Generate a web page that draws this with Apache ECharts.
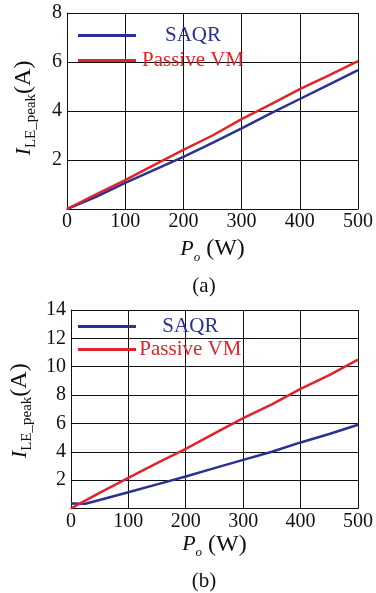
<!DOCTYPE html>
<html>
<head>
<meta charset="utf-8">
<script src="https://cdn.jsdelivr.net/npm/echarts@6/dist/echarts.min.js"></script>
<style>
  html, body { margin: 0; padding: 0; background: #fff; }
  #chart { width: 376px; height: 593px; }
</style>
</head>
<body>
<div id="chart"></div>
<script>
// output power Po (W)
const powerA = [0, 50, 100, 150, 200, 250, 300, 350, 400, 450, 500];
const saqrA = [0, 0.5, 1.07, 1.6, 2.13, 2.7, 3.29, 3.9, 4.49, 5.08, 5.67];
const passiveA = [0, 0.6, 1.18, 1.8, 2.41, 3.0, 3.67, 4.27, 4.89, 5.45, 6.04];

const powerB = [0, 25, 50, 100, 150, 200, 250, 300, 350, 400, 450, 500];
const saqrB = [0.35, 0.33, 0.6, 1.15, 1.7, 2.26, 2.85, 3.43, 4.0, 4.66, 5.25, 5.91];
const passiveB = [0, 0.55, 1.1, 2.16, 3.2, 4.21, 5.3, 6.38, 7.35, 8.43, 9.4, 10.5];

const BLUE = "#2a3190";
const RED = "#e0242a";
const FONT = "Liberation Serif";

const chart = echarts.init(document.getElementById("chart"));

const pair = (xs, ys) => xs.map((x, i) => [x, ys[i]]);

const xName = "{i|P}{o|o}{n| (W)}";
const yName = "{i|I}{s|LE_peak}{n|(A)}";
const nameRich = {
  i: { fontFamily: FONT, fontStyle: "italic", fontSize: 22, color: "#111", lineHeight: 30 },
  o: { fontFamily: FONT, fontStyle: "italic", fontSize: 13, color: "#111", verticalAlign: "bottom", lineHeight: 30 },
  s: { fontFamily: FONT, fontSize: 15, color: "#111", verticalAlign: "bottom", lineHeight: 30 },
  n: { fontFamily: FONT, fontSize: 24, color: "#111", lineHeight: 30 }
};

function xAxis(gridIndex, nameGap) {
  return {
    type: "value",
    gridIndex,
    min: 0,
    max: 500,
    interval: 100,
    name: xName,
    nameLocation: "middle",
    nameGap,
    nameTextStyle: { rich: nameRich },
    axisLine: { lineStyle: { color: "#111", width: 1 } },
    axisTick: { show: false },
    axisLabel: { fontFamily: FONT, fontSize: 20, color: "#111", margin: 3 },
    splitLine: { lineStyle: { color: "#111", width: 1 } }
  };
}

function yAxis(gridIndex, max, nameGap, pad) {
  return {
    type: "value",
    gridIndex,
    min: 0,
    max,
    interval: 2,
    name: yName,
    nameLocation: "middle",
    nameGap,
    nameRotate: 90,
    nameTextStyle: { rich: nameRich, padding: pad },
    axisLine: { show: true, lineStyle: { color: "#111", width: 1 } },
    axisTick: { show: false },
    axisLabel: {
      fontFamily: FONT, fontSize: 20, color: "#111", margin: 5,
      formatter: (v) => (v === 0 ? "" : v)
    },
    splitLine: { lineStyle: { color: "#111", width: 1 } }
  };
}

function legend(top, gap, names) {
  return {
    data: names,
    orient: "vertical",
    left: 73,
    top,
    itemWidth: 58,
    itemHeight: 3,
    itemGap: gap,
    icon: "rect",
    formatter: (name) => (name.trim() === "SAQR" ? "{b|" : "{r|") + name + "}",
    textStyle: {
      fontFamily: FONT,
      fontSize: 21,
      rich: {
        b: { fontFamily: FONT, fontSize: 21, color: BLUE, width: 104, align: "center", lineHeight: 20 },
        r: { fontFamily: FONT, fontSize: 21, color: RED, width: 104, align: "center", lineHeight: 20 }
      }
    }
  };
}

function line(name, xIndex, data, color) {
  return {
    name,
    type: "line",
    xAxisIndex: xIndex,
    yAxisIndex: xIndex,
    data,
    symbol: "none",
    color,
    lineStyle: { color, width: 2.5 }
  };
}

chart.setOption({
  animation: false,
  title: [
    { text: "(a)", left: 199, top: 271, textAlign: "center",
      textStyle: { fontFamily: FONT, fontSize: 21, fontWeight: "normal", color: "#111" } },
    { text: "(b)", left: 199, top: 566, textAlign: "center",
      textStyle: { fontFamily: FONT, fontSize: 21, fontWeight: "normal", color: "#111" } }
  ],
  grid: [
    { left: 67, top: 13, right: 15, height: 196 },
    { left: 69, top: 310, right: 14, height: 198.5 }
  ],
  legend: [
    legend(20, 4, ["SAQR", "Passive VM"]),
    legend(311, 2, ["SAQR ", "Passive VM "])
  ],
  xAxis: [xAxis(0, 25), xAxis(1, 21)],
  yAxis: [yAxis(0, 8, 28, [0, 0, 0, 6]), yAxis(1, 14, 32, [0, 3, 0, 0])],
  series: [
    line("SAQR", 0, pair(powerA, saqrA), BLUE),
    line("Passive VM", 0, pair(powerA, passiveA), RED),
    line("SAQR ", 1, pair(powerB, saqrB), BLUE),
    line("Passive VM ", 1, pair(powerB, passiveB), RED)
  ]
});
</script>
</body>
</html>
